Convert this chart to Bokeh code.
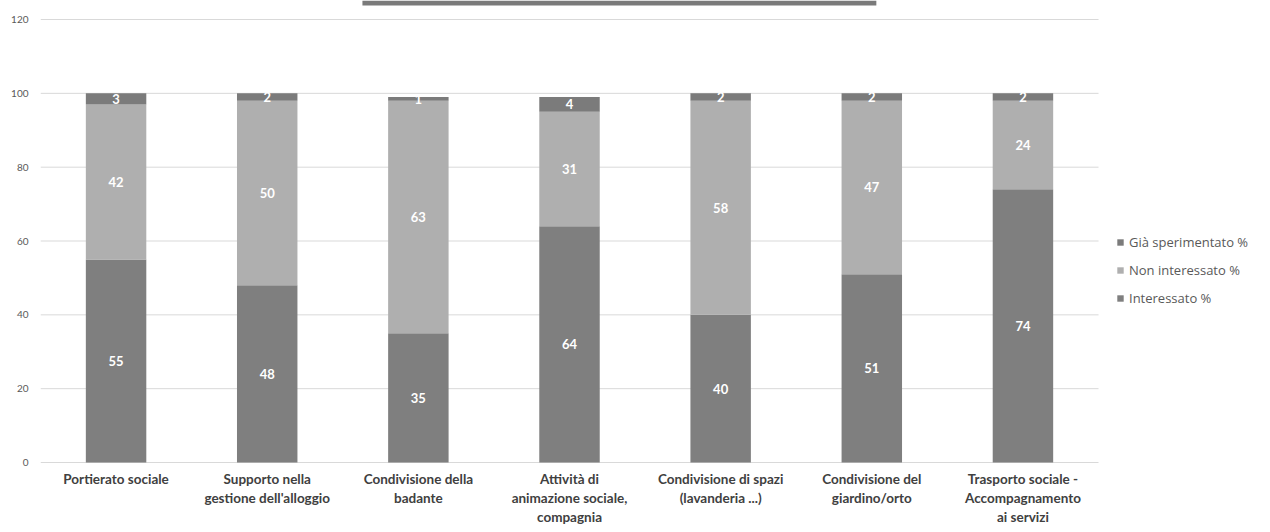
from bokeh.plotting import figure
from bokeh.models import (ColumnDataSource, Range1d, FixedTicker,
                          Legend, LegendItem, BoxAnnotation, LabelSet)
from bokeh.core.properties import value
from bokeh.embed import file_html
from bokeh.resources import INLINE

categories = ["Portierato sociale",
              "Supporto nella\ngestione dell'alloggio",
              "Condivisione della\nbadante",
              "Attività di\nanimazione sociale,\ncompagnia",
              "Condivisione di spazi\n(lavanderia ...)",
              "Condivisione del\ngiardino/orto",
              "Trasporto sociale -\nAccompagnamento\nai servizi"]
interessato = [55, 48, 35, 64, 40, 51, 74]
non_interessato = [42, 50, 63, 31, 58, 47, 24]
gia_sperimentato = [3, 2, 1, 4, 2, 2, 2]
series_names = ["Interessato %", "Non interessato %", "Già sperimentato %"]
y_ticks = [0, 20, 40, 60, 80, 100, 120]

colors = ["#7f7f7f", "#afafaf", "#7b7b7b"]
FONT = "Lato"

# category slots: category i occupies [i, i+1] on the x scale
xpos = [i + 0.5 for i in range(len(categories))]

src = ColumnDataSource(dict(
    x=xpos, a=interessato, b=non_interessato, c=gia_sperimentato,
    a_mid=[v / 2 for v in interessato],
    b_mid=[a + b / 2 for a, b in zip(interessato, non_interessato)],
    c_mid=[a + b + c / 2 for a, b, c in zip(interessato, non_interessato, gia_sperimentato)],
    a_txt=[str(v) for v in interessato],
    b_txt=[str(v) for v in non_interessato],
    c_txt=[str(v) for v in gia_sperimentato],
))

lines = [c.split("\n") for c in categories]
lab_src = ColumnDataSource(dict(
    x=xpos,
    zero=[0] * len(categories),
    l1=[l[0] for l in lines],
    l2=[l[1] if len(l) > 1 else "" for l in lines],
    l3=[l[2] if len(l) > 2 else "" for l in lines],
))

# frame spans the label area below zero and the legend area on the right
p = figure(x_range=Range1d(0, 8.032),
           y_range=Range1d(-16.79, 125.15),
           width=1254, height=524, output_backend="svg", toolbar_location=None,
           min_border_left=40, min_border_right=0, min_border_top=0,
           min_border_bottom=0)
p.outline_line_color = None

renderers = p.vbar_stack(["a", "b", "c"], x="x", width=0.4, source=src,
                         color=colors, line_color=None)

for ycol, tcol in [("a_mid", "a_txt"), ("b_mid", "b_txt"), ("c_mid", "c_txt")]:
    p.add_layout(LabelSet(x="x", y=ycol, text=tcol, source=src,
                          text_align="center", text_baseline="middle",
                          text_color="white", text_font=value(FONT),
                          text_font_style="bold", text_font_size="13px"))

for i, col in enumerate(["l1", "l2", "l3"]):
    p.add_layout(LabelSet(x="x", y="zero", text=col, source=lab_src,
                          y_offset=-(16 + 19 * i),
                          text_align="center", text_baseline="middle",
                          text_color="#404040", text_font=value(FONT),
                          text_font_style="bold", text_font_size="13.5px"))

# decorative title strip (cropped title remnant)
p.add_layout(BoxAnnotation(left=2.13, right=5.53, bottom=123.8, top=125.15,
                           fill_color="#7a7a7a", fill_alpha=1, line_color=None))

# gridlines only across the plotting area (not under the legend)
p.xgrid.grid_line_color = None
p.ygrid.visible = False
p.segment(x0=[0] * len(y_ticks), x1=[len(categories)] * len(y_ticks),
          y0=y_ticks, y1=y_ticks, line_color="#d9d9d9", line_width=1,
          level="underlay")

p.xaxis.visible = False
p.yaxis.ticker = FixedTicker(ticks=y_ticks)
p.yaxis.axis_line_color = None
p.yaxis.major_tick_line_color = None
p.yaxis.major_tick_out = 0
p.yaxis.minor_tick_line_color = None
p.yaxis.major_label_text_font = FONT
p.yaxis.major_label_text_font_size = "10px"
p.yaxis.major_label_text_color = "#595959"
p.yaxis.major_label_standoff = 12

legend = Legend(items=[LegendItem(label=series_names[2], renderers=[renderers[2]]),
                       LegendItem(label=series_names[1], renderers=[renderers[1]]),
                       LegendItem(label=series_names[0], renderers=[renderers[0]])],
                location=(1076, 217), background_fill_alpha=0, border_line_color=None,
                glyph_width=8, glyph_height=8, label_text_font="Open Sans",
                label_text_font_size="13px", label_text_color="#595959",
                label_height=16, spacing=10, label_standoff=5, padding=4, margin=0)
p.add_layout(legend, "center")

open("out.html", "w").write(file_html(p, INLINE))
